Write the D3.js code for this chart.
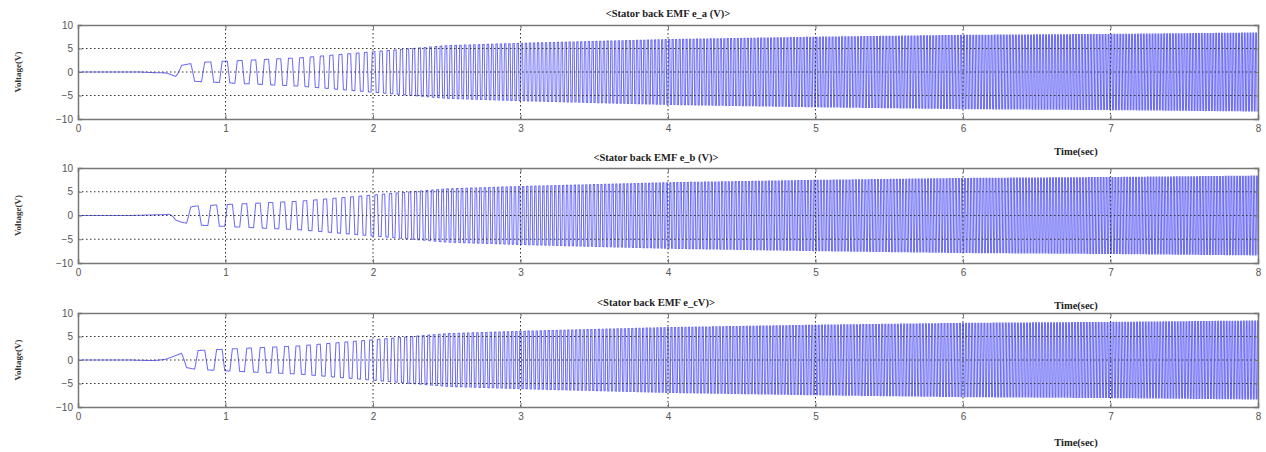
<!DOCTYPE html>
<html>
<head>
<meta charset="utf-8">
<script src="https://cdn.jsdelivr.net/npm/d3@7/dist/d3.min.js"></script>
<style>
  body { margin: 0; background: #fff; }
  svg { display: block; }
</style>
</head>
<body>
<div id="chart"></div>
<script>
// Values
const timeTicks = [0, 1, 2, 3, 4, 5, 6, 7, 8];
const voltTicks = [-10, -5, 0, 5, 10];
const gridVolts = [-5, 0, 5];

const titles = ["<Stator back EMF e_a (V)>", "<Stator back EMF e_b (V)>", "<Stator back EMF e_cV)>"];

// envelope knots (time in sec, peak voltage)
const knotTime = [0, 0.35, 0.6, 0.7, 0.8, 1.0, 1.5, 2.0, 2.5, 3, 4, 5, 6, 7, 8];
const peakVolt = [0, 0, 0.2, 1.4, 2.0, 2.3, 3.0, 4.3, 5.6, 6.1, 6.9, 7.4, 7.8, 8.0, 8.3];
// electrical frequency (Hz) at the same knots, from cycle spacing
const elecHz   = [0, 0, 2, 4.5, 7, 9.5, 13.5, 19, 30, 36, 42, 46, 48, 50, 52];
// phase offset of each winding (deg)
const phaseDeg = [180, 60, 300];

// Layout
const W = 1266, H = 452;
const left = 78, right = 1258;
const panels = [
  { top: 25, bottom: 119, titleY: 17 },
  { top: 168, bottom: 263, titleY: 161 },
  { top: 313, bottom: 407, titleY: 306 }
];

const svg = d3.select("#chart").append("svg")
  .attr("width", W)
  .attr("height", H);

const x = d3.scaleLinear().domain([0, 8]).range([left, right]);
const ampAt = d3.scaleLinear().domain(knotTime).range(peakVolt).clamp(true);
const hzAt = d3.scaleLinear().domain(knotTime).range(elecHz).clamp(true);

// trapezoidal back EMF built from the knots above
function waveform(offset) {
  const dt = 1 / 3000;
  const pts = [];
  let th = 0;
  for (let t = 0; t <= 8 + 1e-9; t += dt) {
    const s = Math.max(-1, Math.min(1, 2 * Math.sin(th + offset * Math.PI / 180)));
    pts.push([t, ampAt(t) * s]);
    th += 2 * Math.PI * hzAt(t) * dt;
  }
  return pts;
}

panels.forEach((p, i) => {
  const y = d3.scaleLinear().domain([-10, 10]).range([p.bottom, p.top]);
  const g = svg.append("g");

  // signal
  const line = d3.line()
    .x(d => x(d[0]))
    .y(d => y(d[1]));

  g.append("path")
    .datum(waveform(phaseDeg[i]))
    .attr("fill", "none")
    .attr("stroke", "#5555f6")
    .attr("stroke-width", 1.05)
    .attr("stroke-opacity", 0.85)
    .attr("d", line);

  // grid (dotted, drawn over the signal)
  g.selectAll(".hg")
    .data(gridVolts)
    .enter().append("line")
    .attr("x1", left).attr("x2", right)
    .attr("y1", d => y(d)).attr("y2", d => y(d))
    .attr("stroke", "#333")
    .attr("stroke-width", 1)
    .attr("stroke-dasharray", "1.5,2.5");

  g.selectAll(".vg")
    .data(timeTicks.slice(1, -1))
    .enter().append("line")
    .attr("x1", d => x(d)).attr("x2", d => x(d))
    .attr("y1", p.top).attr("y2", p.bottom)
    .attr("stroke", "#333")
    .attr("stroke-width", 1)
    .attr("stroke-dasharray", "1.5,2.5");

  // axes
  const xAxis = g.append("g")
    .attr("transform", `translate(0,${p.bottom})`)
    .call(d3.axisBottom(x).tickValues(timeTicks).tickSize(-4).tickPadding(6));
  const xAxisTop = g.append("g")
    .attr("transform", `translate(0,${p.top})`)
    .call(d3.axisTop(x).tickValues(timeTicks).tickSize(-4).tickFormat(""));
  const yAxis = g.append("g")
    .attr("transform", `translate(${left},0)`)
    .call(d3.axisLeft(y).tickValues(voltTicks).tickSize(-4).tickPadding(5));
  const yAxisRight = g.append("g")
    .attr("transform", `translate(${right},0)`)
    .call(d3.axisRight(y).tickValues(voltTicks).tickSize(-4).tickFormat(""));

  [xAxis, xAxisTop, yAxis, yAxisRight].forEach(a => {
    a.select(".domain").attr("stroke", "#777").attr("stroke-width", 1.5);
    a.selectAll(".tick line").attr("stroke", "#777");
    a.selectAll("text")
      .attr("fill", "#555")
      .style("font-family", "Liberation Sans, Arial, sans-serif")
      .style("font-size", "10px");
  });

  // title
  svg.append("text")
    .attr("x", (left + right) / 2 + (i === 0 ? 0 : -12))
    .attr("y", p.titleY)
    .attr("text-anchor", "middle")
    .style("font-family", "Liberation Serif, Times New Roman, serif")
    .style("font-weight", "bold")
    .style("font-size", "10.5px")
    .attr("fill", "#222")
    .text(titles[i]);

  // y label
  svg.append("text")
    .attr("transform", `translate(21,${(p.top + p.bottom) / 2}) rotate(-90)`)
    .attr("text-anchor", "middle")
    .style("font-family", "Liberation Serif, Times New Roman, serif")
    .style("font-weight", "bold")
    .style("font-size", "9px")
    .attr("fill", "#333")
    .text("Voltage(V)");
});

// x labels (placed as in the original figure)
[155, 309, 446].forEach(yy => {
  svg.append("text")
    .attr("x", 1076)
    .attr("y", yy)
    .attr("text-anchor", "middle")
    .style("font-family", "Liberation Serif, Times New Roman, serif")
    .style("font-weight", "bold")
    .style("font-size", "10.5px")
    .attr("fill", "#222")
    .text("Time(sec)");
});
</script>
</body>
</html>
